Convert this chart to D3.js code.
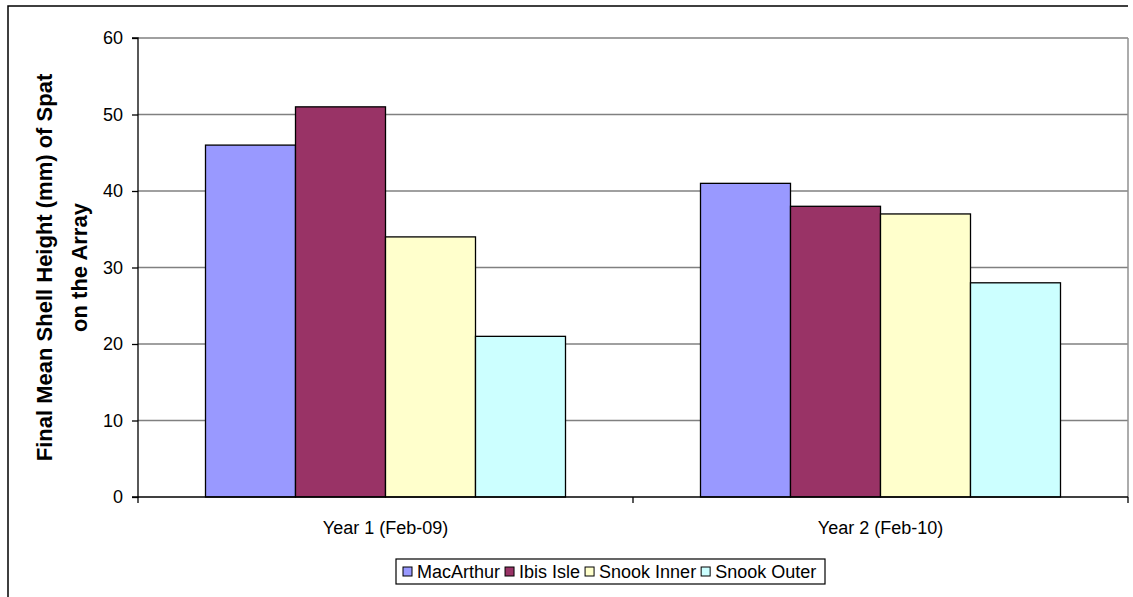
<!DOCTYPE html>
<html><head><meta charset="utf-8">
<script src="https://cdn.jsdelivr.net/npm/d3@7"></script>
<style>body{margin:0;background:#fff}svg{display:block}text{font-family:Arial,"Liberation Sans",sans-serif}</style>
</head><body><svg id="c" width="1133" height="597"></svg>
<script>
const categories = ["Year 1 (Feb-09)", "Year 2 (Feb-10)"];
const seriesNames = ["MacArthur", "Ibis Isle", "Snook Inner", "Snook Outer"];
const macArthur = [46, 41];
const ibisIsle = [51, 38];
const snookInner = [34, 37];
const snookOuter = [21, 28];
const yTicks = [0, 10, 20, 30, 40, 50, 60];
const colors = ["#9999FF", "#993366", "#FFFFCC", "#CCFFFF"];
const seriesValues = [macArthur, ibisIsle, snookInner, snookOuter];

const svg = d3.select("#c");
const L = 138, R = 1128, T = 38, B = 497;

// outer border (left and top visible)
svg.append("path").attr("d", `M8,597V6H1128`).attr("fill","none").attr("stroke","#000").attr("stroke-width",1.5);

const x0 = d3.scaleBand().domain(categories).range([L, R]).paddingInner(0).paddingOuter(0);
const x1 = d3.scaleBand().domain(seriesNames).range([0, x0.bandwidth()]).paddingOuter(0.75).paddingInner(0);
const y = d3.scaleLinear().domain([0, 60]).range([B, T]);

// gridlines
svg.append("g").selectAll("line").data(yTicks.filter(d => d > 0)).join("line")
  .attr("x1", L).attr("x2", R).attr("y1", d => y(d)).attr("y2", d => y(d))
  .attr("stroke", "#808080").attr("stroke-width", 1.3);
// right edge of plot
svg.append("line").attr("x1", R).attr("x2", R).attr("y1", T).attr("y2", B).attr("stroke", "#909090").attr("stroke-width", 1.5);

// bars
const groups = svg.append("g").selectAll("g").data(categories).join("g")
  .attr("transform", d => `translate(${x0(d)},0)`);
groups.selectAll("rect").data((c, ci) => seriesNames.map((s, si) => ({s, si, v: seriesValues[si][ci]}))).join("rect")
  .attr("x", d => x1(d.s)).attr("width", x1.bandwidth())
  .attr("y", d => y(d.v)).attr("height", d => y(0) - y(d.v))
  .attr("fill", d => colors[d.si]).attr("stroke", "#000").attr("stroke-width", 1.3);

// y axis
const yAxis = d3.axisLeft(y).tickValues(yTicks).tickSize(6).tickPadding(9);
const gy = svg.append("g").attr("transform", `translate(${L},0)`).call(yAxis);
gy.select(".domain").attr("stroke", "#000").attr("stroke-width", 1.3).attr("d", `M-6,${T}H0V${B}H-6`);
gy.selectAll(".tick line").attr("stroke", "#000").attr("stroke-width", 1.3);
gy.selectAll(".tick text").attr("font-size", 18).attr("fill", "#000").attr("font-family", "Arial, 'Liberation Sans', sans-serif");

// x axis
svg.append("line").attr("x1", L).attr("x2", R).attr("y1", B).attr("y2", B).attr("stroke", "#000").attr("stroke-width", 1.3);
const bounds = categories.map(c => x0(c)).concat([R]);
svg.append("g").selectAll("line").data(bounds).join("line")
  .attr("x1", d => d).attr("x2", d => d).attr("y1", B).attr("y2", B + 6)
  .attr("stroke", "#000").attr("stroke-width", 1.3);
svg.append("g").selectAll("text").data(categories).join("text")
  .attr("x", d => x0(d) + x0.bandwidth() / 2).attr("y", 534)
  .attr("text-anchor", "middle").attr("font-size", 18).text(d => d);

// y title
const yt = svg.append("text").attr("transform", `translate(0,${(T + B) / 2}) rotate(-90)`)
  .attr("text-anchor", "middle").attr("font-size", 22).attr("font-weight", "bold");
yt.append("tspan").attr("x", 0).attr("y", 52).text("Final Mean Shell Height (mm) of Spat");
yt.append("tspan").attr("x", 0).attr("y", 87).text("on the Array");

// legend
const lg = svg.append("g");
lg.append("rect").attr("x", 396).attr("y", 559).attr("width", 429).attr("height", 25)
  .attr("fill", "#fff").attr("stroke", "#000").attr("stroke-width", 1.2);
let lx = 403;
seriesNames.forEach((s, i) => {
  lg.append("rect").attr("x", lx).attr("y", 567).attr("width", 9).attr("height", 9)
    .attr("fill", colors[i]).attr("stroke", "#000").attr("stroke-width", 1);
  const t = lg.append("text").attr("x", lx + 14).attr("y", 578).attr("font-size", 18).text(s);
  lx += 14 + t.node().getComputedTextLength() + 5;
});
</script></body></html>
